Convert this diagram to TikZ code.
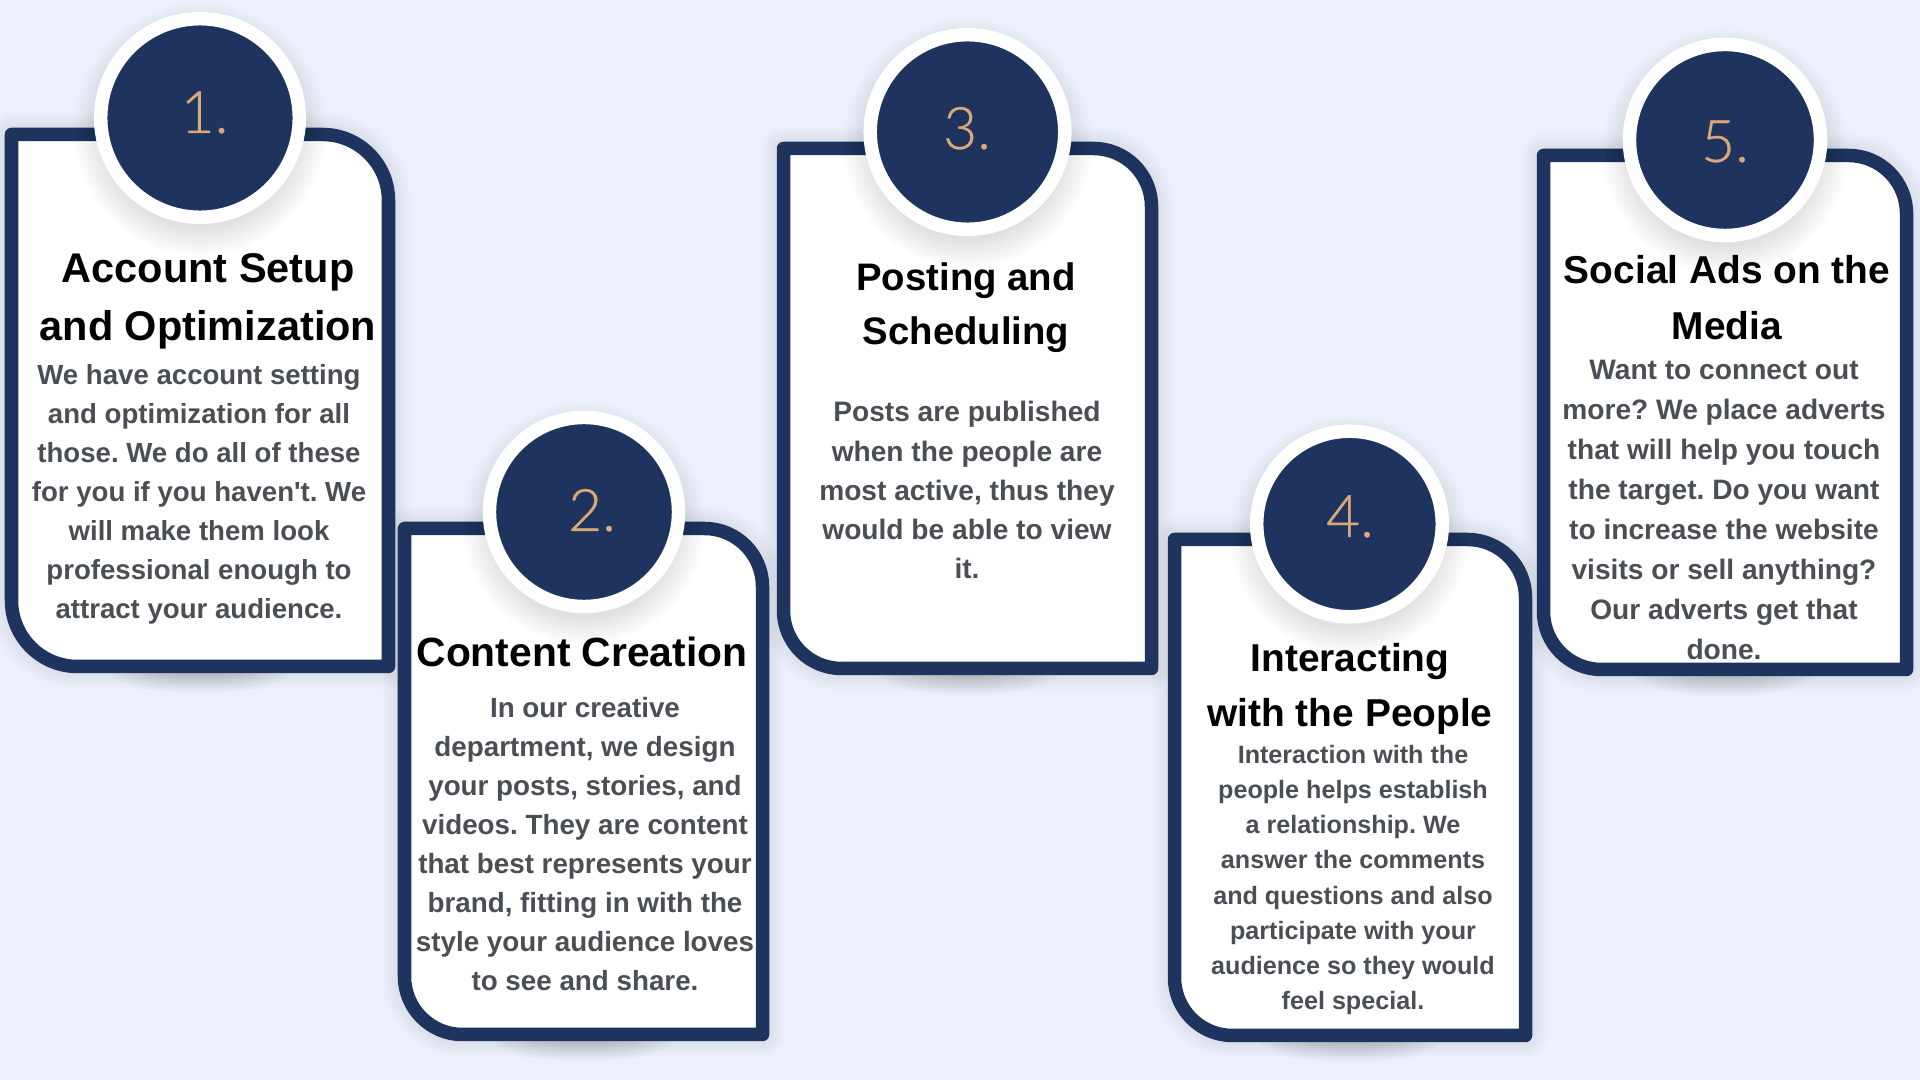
\documentclass[tikz,border=0pt]{standalone}
\usepackage{fontspec}
\newfontfamily\cardfont{Liberation Sans}
\newfontfamily\numfont[FakeBold=0.5]{Lato Light}
\frenchspacing

\definecolor{pagebg}{HTML}{EBF0FA}
\definecolor{navy}{HTML}{1E335E}
\definecolor{tan}{HTML}{DBA878}
\definecolor{bodygrey}{HTML}{4A4F56}

\tikzset{
    cardline/.style={draw=navy, fill=white, line width=0.135cm, line join=round},
    disc/.style={circle, draw=white, fill=navy, line width=0.135cm, inner sep=0pt},
    numtext/.style={text=tan, anchor=base, font=\numfont\fontsize{16.7}{20}\selectfont},
    titletext/.style={text=black, align=center, font=\cardfont\bfseries\fontsize{11.8}{16.5}\selectfont},
    bodytext/.style={text=bodygrey, align=center, font=\cardfont\bfseries\fontsize{8}{11.1}\selectfont},
}

% x0, y0, x1, y1, corner radius
\newcommand{\cardpath}[5]{(#1,#2) -- ({#3-#5},#2) arc[start angle=270, end angle=360, radius=#5] -- (#3,#4) -- ({#1+#5},#4) arc[start angle=90, end angle=180, radius=#5] -- cycle}
\newcommand{\cardshadow}[5]{
    \foreach \k in {1,...,8} {
        \draw[black, draw opacity=0.007, line width={(13+\k*4)*0.01cm}, line join=round] \cardpath{#1}{#2}{#3}{#4}{#5};
        \fill[black, fill opacity=0.022] ({(#1+#3)/2},#4) ellipse[x radius={30+\k*8}, y radius={3+\k*3}];
    }
}
\newcommand{\discshadow}[3]{
    \foreach \k in {1,...,10} {
        \fill[black, fill opacity=0.013] (#1,{#2+12}) circle[radius={#3-10+\k*3}];
    }
}

\begin{document}
\begin{tikzpicture}[x=0.01cm, y=-0.01cm]
    \fill[pagebg] (0,0) rectangle (1920,1080);
    \useasboundingbox (0,0) rectangle (1920,1080);

    \cardshadow{11.5}{134.5}{388.5}{666.5}{66}
    \cardshadow{404.5}{528.5}{762.5}{1034.5}{58}
    \cardshadow{783.5}{148.5}{1151.5}{668.5}{58}
    \cardshadow{1174.5}{539.5}{1525.5}{1035.5}{58}
    \cardshadow{1543.5}{155.5}{1906.5}{669.5}{58}

    \draw[cardline] \cardpath{11.5}{134.5}{388.5}{666.5}{66};
    \draw[cardline] \cardpath{404.5}{528.5}{762.5}{1034.5}{58};
    \draw[cardline] \cardpath{783.5}{148.5}{1151.5}{668.5}{58};
    \draw[cardline] \cardpath{1174.5}{539.5}{1525.5}{1035.5}{58};
    \draw[cardline] \cardpath{1543.5}{155.5}{1906.5}{669.5}{58};

    \discshadow{200}{118}{106}
    \discshadow{584}{512}{101}
    \discshadow{967.5}{132}{104}
    \discshadow{1349.5}{524}{99}
    \discshadow{1725}{140}{102}

    \node[disc, minimum size=1.985cm] (disc1) at (200, 118) {};
    \node[disc, minimum size=1.89cm] (disc2) at (584, 512) {};
    \node[disc, minimum size=1.945cm] (disc3) at (967.5, 132) {};
    \node[disc, minimum size=1.855cm] (disc4) at (1349.5, 524) {};
    \node[disc, minimum size=1.91cm] (disc5) at (1725, 140) {};

    \node[numtext] (num1) at (204.5, 133) {1.};
    \node[numtext] (num2) at (592, 531) {2.};
    \node[numtext] (num3) at (967, 149) {3.};
    \node[numtext] (num4) at (1350, 537) {4.};
    \node[numtext] (num5) at (1725, 162) {5.};

    \node[titletext] (title1) at (208, 301) {Account Setup\\and Optimization};
    \node[titletext, font=\cardfont\bfseries\fontsize{11.6}{16}\selectfont] (title2) at (582, 652) {Content Creation};
    \node[titletext, font=\cardfont\bfseries\fontsize{10.9}{15.4}\selectfont] (title3) at (966, 308) {Posting and\\Scheduling};
    \node[titletext, font=\cardfont\bfseries\fontsize{11.05}{15.4}\selectfont] (title4) at (1350, 689) {Interacting\\with the People};
    \node[titletext, font=\cardfont\bfseries\fontsize{11.05}{15.9}\selectfont] (title5) at (1727, 298) {Social Ads on the\\Media};

    \node[bodytext, font=\cardfont\bfseries\fontsize{7.85}{11.1}\selectfont] (body1) at (199, 494) {We have account setting\\and optimization for all\\those. We do all of these\\for you if you haven't. We\\will make them look\\professional enough to\\attract your audience.};
    \node[bodytext, font=\cardfont\bfseries\fontsize{7.9}{11.1}\selectfont] (body2) at (585, 844) {In our creative\\department, we design\\your posts, stories, and\\videos. They are content\\that best represents your\\brand, fitting in with the\\style your audience loves\\to see and share.};
    \node[bodytext] (body3) at (967, 490) {Posts are published\\when the people are\\most active, thus they\\would be able to view\\it.};
    \node[bodytext, font=\cardfont\bfseries\fontsize{7.15}{9.96}\selectfont] (body4) at (1353, 880) {Interaction with the\\people helps establish\\a relationship. We\\answer the comments\\and questions and also\\participate with your\\audience so they would\\feel special.};
    \node[bodytext, font=\cardfont\bfseries\fontsize{8}{11.35}\selectfont] (body5) at (1724, 510) {Want to connect out\\more? We place adverts\\that will help you touch\\the target. Do you want\\to increase the website\\visits or sell anything?\\Our adverts get that\\done.};
\end{tikzpicture}
\end{document}
